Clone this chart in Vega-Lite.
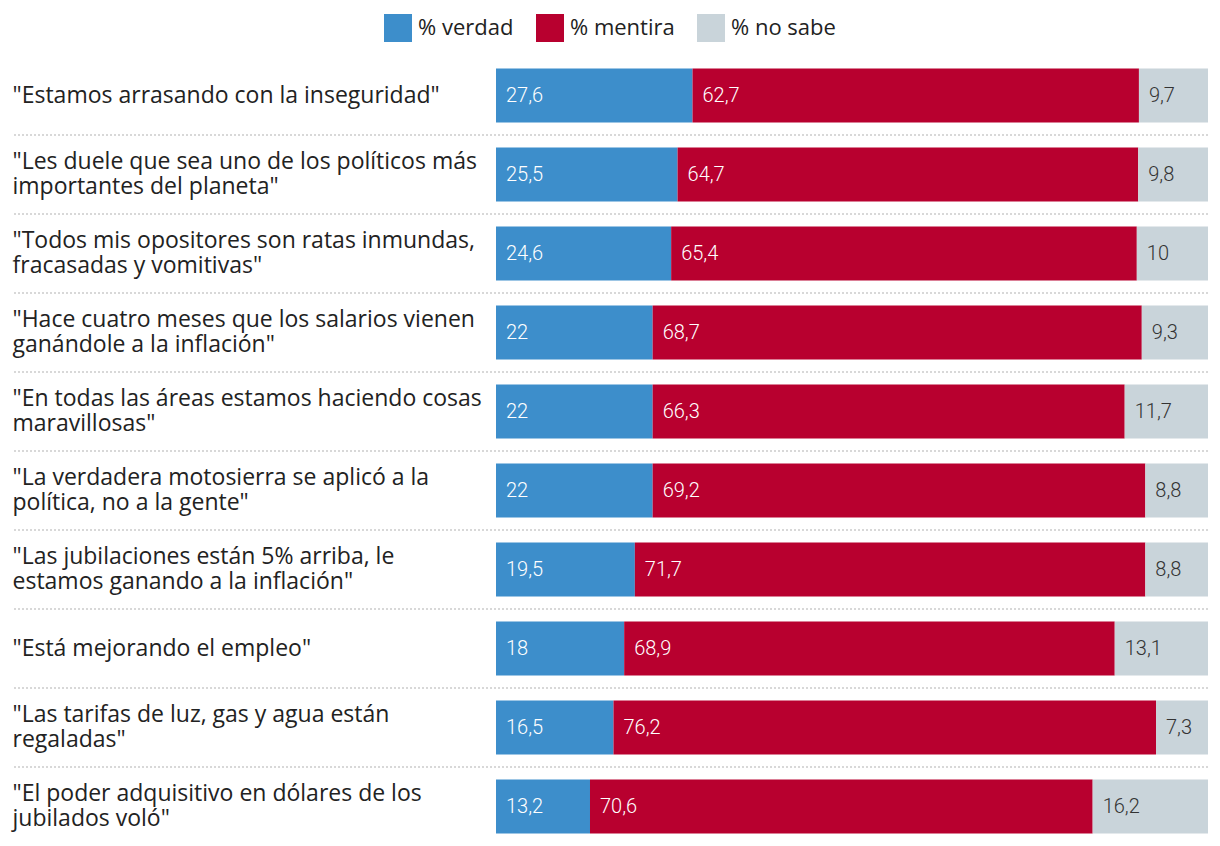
{
  "$schema": "https://vega.github.io/schema/vega-lite/v6.json",
  "width": 1196,
  "height": 790,
  "autosize": "none",
  "padding": {"left": 12, "top": 56, "right": 12, "bottom": 0},
  "background": "white",
  "config": {
    "view": {"stroke": null},
    "font": "Roboto",
    "legend": {"layout": {"top": {"anchor": "middle"}}},
    "locale": {"number": {"decimal": ",", "thousands": ".", "grouping": [3], "currency": ["$", ""]}}
  },
  "data": {
    "values": [
      {"id": 1, "frase": "\"Estamos arrasando con la inseguridad\"", "cat": "% verdad", "orden": 1, "valor": 27.6},
      {"id": 1, "frase": "\"Estamos arrasando con la inseguridad\"", "cat": "% mentira", "orden": 2, "valor": 62.7},
      {"id": 1, "frase": "\"Estamos arrasando con la inseguridad\"", "cat": "% no sabe", "orden": 3, "valor": 9.7},
      {"id": 2, "frase": "\"Les duele que sea uno de los políticos más|importantes del planeta\"", "cat": "% verdad", "orden": 1, "valor": 25.5},
      {"id": 2, "frase": "\"Les duele que sea uno de los políticos más|importantes del planeta\"", "cat": "% mentira", "orden": 2, "valor": 64.7},
      {"id": 2, "frase": "\"Les duele que sea uno de los políticos más|importantes del planeta\"", "cat": "% no sabe", "orden": 3, "valor": 9.8},
      {"id": 3, "frase": "\"Todos mis opositores son ratas inmundas,|fracasadas y vomitivas\"", "cat": "% verdad", "orden": 1, "valor": 24.6},
      {"id": 3, "frase": "\"Todos mis opositores son ratas inmundas,|fracasadas y vomitivas\"", "cat": "% mentira", "orden": 2, "valor": 65.4},
      {"id": 3, "frase": "\"Todos mis opositores son ratas inmundas,|fracasadas y vomitivas\"", "cat": "% no sabe", "orden": 3, "valor": 10},
      {"id": 4, "frase": "\"Hace cuatro meses que los salarios vienen|ganándole a la inflación\"", "cat": "% verdad", "orden": 1, "valor": 22},
      {"id": 4, "frase": "\"Hace cuatro meses que los salarios vienen|ganándole a la inflación\"", "cat": "% mentira", "orden": 2, "valor": 68.7},
      {"id": 4, "frase": "\"Hace cuatro meses que los salarios vienen|ganándole a la inflación\"", "cat": "% no sabe", "orden": 3, "valor": 9.3},
      {"id": 5, "frase": "\"En todas las áreas estamos haciendo cosas|maravillosas\"", "cat": "% verdad", "orden": 1, "valor": 22},
      {"id": 5, "frase": "\"En todas las áreas estamos haciendo cosas|maravillosas\"", "cat": "% mentira", "orden": 2, "valor": 66.3},
      {"id": 5, "frase": "\"En todas las áreas estamos haciendo cosas|maravillosas\"", "cat": "% no sabe", "orden": 3, "valor": 11.7},
      {"id": 6, "frase": "\"La verdadera motosierra se aplicó a la|política, no a la gente\"", "cat": "% verdad", "orden": 1, "valor": 22},
      {"id": 6, "frase": "\"La verdadera motosierra se aplicó a la|política, no a la gente\"", "cat": "% mentira", "orden": 2, "valor": 69.2},
      {"id": 6, "frase": "\"La verdadera motosierra se aplicó a la|política, no a la gente\"", "cat": "% no sabe", "orden": 3, "valor": 8.8},
      {"id": 7, "frase": "\"Las jubilaciones están 5% arriba, le|estamos ganando a la inflación\"", "cat": "% verdad", "orden": 1, "valor": 19.5},
      {"id": 7, "frase": "\"Las jubilaciones están 5% arriba, le|estamos ganando a la inflación\"", "cat": "% mentira", "orden": 2, "valor": 71.7},
      {"id": 7, "frase": "\"Las jubilaciones están 5% arriba, le|estamos ganando a la inflación\"", "cat": "% no sabe", "orden": 3, "valor": 8.8},
      {"id": 8, "frase": "\"Está mejorando el empleo\"", "cat": "% verdad", "orden": 1, "valor": 18},
      {"id": 8, "frase": "\"Está mejorando el empleo\"", "cat": "% mentira", "orden": 2, "valor": 68.9},
      {"id": 8, "frase": "\"Está mejorando el empleo\"", "cat": "% no sabe", "orden": 3, "valor": 13.1},
      {"id": 9, "frase": "\"Las tarifas de luz, gas y agua están|regaladas\"", "cat": "% verdad", "orden": 1, "valor": 16.5},
      {"id": 9, "frase": "\"Las tarifas de luz, gas y agua están|regaladas\"", "cat": "% mentira", "orden": 2, "valor": 76.2},
      {"id": 9, "frase": "\"Las tarifas de luz, gas y agua están|regaladas\"", "cat": "% no sabe", "orden": 3, "valor": 7.3},
      {"id": 10, "frase": "\"El poder adquisitivo en dólares de los|jubilados voló\"", "cat": "% verdad", "orden": 1, "valor": 13.2},
      {"id": 10, "frase": "\"El poder adquisitivo en dólares de los|jubilados voló\"", "cat": "% mentira", "orden": 2, "valor": 70.6},
      {"id": 10, "frase": "\"El poder adquisitivo en dólares de los|jubilados voló\"", "cat": "% no sabe", "orden": 3, "valor": 16.2}
    ]
  },
  "transform": [
    {"stack": "valor", "groupby": ["frase"], "sort": [{"field": "orden", "order": "ascending"}], "as": ["x0", "x1"]}
  ],
  "layer": [
    {
      "transform": [{"filter": "datum.id > 1 && datum.orden == 1"}],
      "mark": {"type": "rule", "stroke": "#cccccc", "strokeWidth": 1.5, "strokeDash": [2, 2]},
      "encoding": {
        "y": {"field": "frase", "type": "nominal", "sort": {"field": "id", "op": "min"}, "bandPosition": 0}
      }
    },
    {
      "mark": {"type": "bar", "height": {"band": 0.684}},
      "encoding": {
        "y": {
          "field": "frase", "type": "nominal", "sort": {"field": "id", "op": "min"},
          "scale": {"paddingInner": 0, "paddingOuter": 0},
          "axis": {
            "title": null, "domain": false, "ticks": false, "tickSize": 0, "grid": false,
            "labelAlign": "left", "labelPadding": 0, "labelBaseline": "middle",
            "labelOffset": {"condition": {"test": "indexof(datum.value, '|') >= 0", "value": -12.5}, "value": 0},
            "labelExpr": "split(datum.label, '|')", "labelFont": "Open Sans", "labelFontSize": 23,
            "labelLineHeight": 25, "labelColor": "#222222", "labelLimit": 0
          }
        },
        "x": {"field": "x0", "type": "quantitative", "scale": {"domain": [-67.98, 100], "nice": false, "zero": false}, "axis": null},
        "x2": {"field": "x1"},
        "color": {
          "field": "cat", "type": "nominal",
          "scale": {"domain": ["% verdad", "% mentira", "% no sabe"], "range": ["#3d8ecb", "#b8002f", "#c9d4da"]},
          "legend": {
            "title": null, "orient": "top", "direction": "horizontal", "symbolType": "square",
            "symbolSize": 784, "symbolStrokeWidth": 0, "symbolOpacity": 1, "labelFont": "Open Sans", "labelFontSize": 22,
            "labelColor": "#222222", "labelOffset": 6, "columnPadding": 22, "offset": 14
          }
        }
      }
    },
    {
      "mark": {"type": "text", "align": "left", "baseline": "middle", "dx": 10, "fontSize": 20, "font": "Roboto", "fontWeight": 300},
      "encoding": {
        "y": {"field": "frase", "type": "nominal", "sort": {"field": "id", "op": "min"}},
        "x": {"field": "x0", "type": "quantitative"},
        "text": {"field": "valor", "type": "quantitative", "format": ".1~f"},
        "color": {"condition": {"test": "datum.cat === '% no sabe'", "value": "#333333"}, "value": "#ffffff"}
      }
    }
  ]
}
